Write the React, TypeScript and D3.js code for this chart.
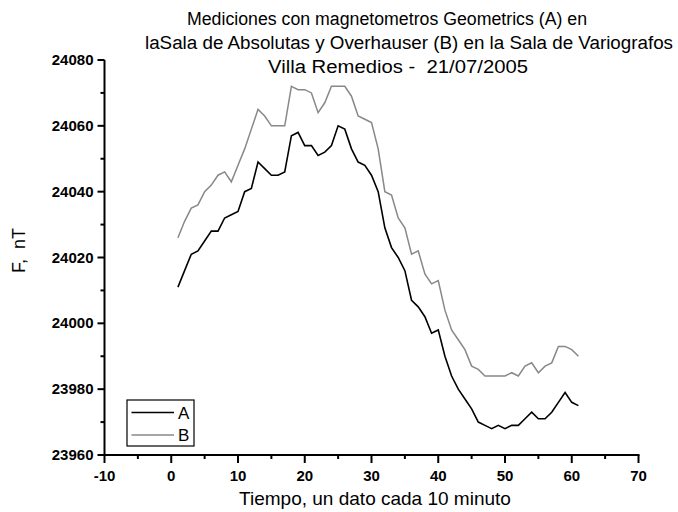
import React from "react";
import * as d3 from "d3";

const seriesA: number[] = [
  24011, 24016, 24021, 24022, 24025, 24028, 24028, 24032, 24033, 24034,
  24040, 24041, 24049, 24047, 24045, 24045, 24046, 24057, 24058, 24054,
  24054, 24051, 24052, 24054, 24060, 24059, 24053, 24049, 24048, 24045,
  24040, 24029, 24023, 24020, 24016, 24007, 24005, 24002, 23997, 23998,
  23990, 23984, 23980, 23977, 23974, 23970, 23969, 23968, 23969, 23968,
  23969, 23969, 23971, 23973, 23971, 23971, 23973, 23976, 23979, 23976,
  23975,
];

const seriesB: number[] = [
  24026, 24031, 24035, 24036, 24040, 24042, 24045, 24046, 24043, 24048,
  24053, 24059, 24065, 24063, 24060, 24060, 24060, 24072, 24071, 24071,
  24070, 24064, 24067, 24072, 24072, 24072, 24069, 24063, 24062, 24061,
  24053, 24040, 24039, 24032, 24029, 24021, 24022, 24015, 24012, 24013,
  24004, 23998, 23995, 23992, 23987, 23986, 23984, 23984, 23984, 23984,
  23985, 23984, 23987, 23988, 23985, 23987, 23988, 23993, 23993, 23992,
  23990,
];

const xTicks: number[] = [-10, 0, 10, 20, 30, 40, 50, 60, 70];
const xMinor: number[] = [-5, 5, 15, 25, 35, 45, 55, 65];
const yTicks: number[] = [23960, 23980, 24000, 24020, 24040, 24060, 24080];
const yMinor: number[] = [23970, 23990, 24010, 24030, 24050, 24070];

const titleLines: string[] = [
  "Mediciones con magnetometros Geometrics (A) en",
  "laSala de Absolutas y Overhauser (B) en la Sala de Variografos",
  "Villa Remedios -  21/07/2005",
];

const FONT = "'Liberation Sans', Arial, Helvetica, sans-serif";

export default function App() {
  const W = 678;
  const H = 512;
  const x = d3.scaleLinear().domain([-10, 70]).range([104.5, 638.5]);
  const y = d3.scaleLinear().domain([23960, 24080]).range([455, 60]);

  const line = d3
    .line<number>()
    .x((_, i) => x(i + 1))
    .y((d) => y(d));

  const titleStart = [187, 145, 268];
  const titleLen = [400, 528, 260];

  return (
    <svg
      width={W}
      height={H}
      style={{ position: "absolute", left: 0, top: 0, background: "#fff" }}
      fontFamily={FONT}
    >
      <rect x={0} y={0} width={W} height={H} fill="#fff" />
      {titleLines.map((t, i) => (
        <text
          key={i}
          x={titleStart[i]}
          y={25 + i * 24}
          textLength={titleLen[i]}
          lengthAdjust="spacingAndGlyphs"
          fontSize={18}
          fill="#000"
          style={{ whiteSpace: "pre" }}
        >
          {t}
        </text>
      ))}

      {/* series */}
      <path d={line(seriesB) || ""} fill="none" stroke="#888" strokeWidth={1.5} />
      <path d={line(seriesA) || ""} fill="none" stroke="#000" strokeWidth={1.6} />

      {/* axes */}
      <line x1={x(-10)} x2={x(-10)} y1={y(24080)} y2={y(23960) + 1} stroke="#000" strokeWidth={2} />
      <line x1={x(-10) - 1} x2={x(70) + 1} y1={y(23960)} y2={y(23960)} stroke="#000" strokeWidth={2} />

      {xTicks.map((t) => (
        <g key={"xt" + t}>
          <line x1={x(t)} x2={x(t)} y1={y(23960)} y2={y(23960) + 8} stroke="#000" strokeWidth={2} />
          <text x={x(t)} y={y(23960) + 26} textAnchor="middle" fontSize={15} fontWeight="bold">
            {t}
          </text>
        </g>
      ))}
      {xMinor.map((t) => (
        <line key={"xm" + t} x1={x(t)} x2={x(t)} y1={y(23960)} y2={y(23960) + 4} stroke="#000" strokeWidth={2} />
      ))}
      {yTicks.map((t) => (
        <g key={"yt" + t}>
          <line x1={x(-10) - 7} x2={x(-10)} y1={y(t)} y2={y(t)} stroke="#000" strokeWidth={2} />
          <text x={x(-10) - 11} y={y(t) + 5} textAnchor="end" fontSize={15} fontWeight="bold">
            {t}
          </text>
        </g>
      ))}
      {yMinor.map((t) => (
        <line key={"ym" + t} x1={x(-10) - 4} x2={x(-10)} y1={y(t)} y2={y(t)} stroke="#000" strokeWidth={2} />
      ))}

      {/* axis labels */}
      <text x={375} y={505} textAnchor="middle" fontSize={19}>
        Tiempo, un dato cada 10 minuto
      </text>
      <text
        transform="translate(25,273) rotate(-90)"
        textAnchor="start"
        fontSize={18}
        style={{ whiteSpace: "pre" }}
      >
        {"F,  nT"}
      </text>

      {/* legend */}
      <rect x={127} y={400} width={67} height={46} fill="#fff" stroke="#000" strokeWidth={1.2} />
      <line x1={131.5} x2={174} y1={412.5} y2={412.5} stroke="#000" strokeWidth={1.5} />
      <line x1={131.5} x2={174} y1={435} y2={435} stroke="#888" strokeWidth={1.5} />
      <text x={178} y={419} fontSize={17}>A</text>
      <text x={178} y={441} fontSize={17}>B</text>
    </svg>
  );
}
